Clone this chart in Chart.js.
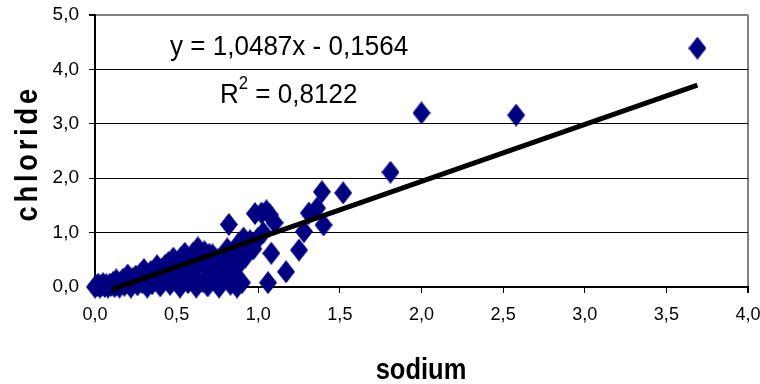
<!DOCTYPE html>
<html>
<head>
<meta charset="utf-8">
<script src="https://cdn.jsdelivr.net/npm/chart.js@4.4.1/dist/chart.umd.min.js"></script>
<style>
html,body{margin:0;padding:0;background:#fff;}
#wrap{position:relative;width:760px;height:384px;}
</style>
</head>
<body>
<div id="wrap"><canvas id="c" width="760" height="384"></canvas></div>
<script>
// sodium (x) and chloride (y) observations
const sodium = [
  0.00,0.01,0.02,0.03,0.04,0.05,0.06,0.07,0.08,0.09,
  0.10,0.11,0.12,0.13,0.14,0.15,0.16,0.17,0.18,0.19,
  0.20,0.21,0.22,0.23,0.24,0.25,0.26,0.27,0.28,0.29,
  0.30,0.31,0.32,0.33,0.34,0.35,0.36,0.37,0.38,0.39,
  0.40,0.41,0.42,0.43,0.44,0.45,0.46,0.47,0.48,0.49,
  0.50,0.51,0.52,0.53,0.54,0.55,0.56,0.57,0.58,0.59,
  0.60,0.61,0.62,0.63,0.64,0.65,0.66,0.67,0.68,0.69,
  0.70,0.71,0.72,0.73,0.74,0.75,0.76,0.77,0.78,0.79,
  0.80,0.81,0.82,0.83,0.84,0.85,0.86,0.87,0.88,0.89,
  0.90,0.91,0.92,0.93,0.95,0.96,0.97,0.98,1.00,1.02,
  1.03,1.05,1.07,1.06,1.08,1.10,1.17,1.25,1.28,1.31,
  1.36,1.39,1.40,1.52,1.81,2.00,2.58,3.69
];
const chloride = [
  0.00,0.02,0.05,0.00,0.03,0.06,0.01,0.04,0.00,0.05,
  0.03,0.08,0.01,0.13,0.05,0.00,0.09,0.14,0.03,0.10,
  0.22,0.06,0.00,0.15,0.10,0.20,0.04,0.18,0.25,0.08,
  0.32,0.14,0.00,0.22,0.28,0.06,0.30,0.16,0.39,0.25,
  0.02,0.33,0.12,0.40,0.20,0.45,0.05,0.30,0.53,0.38,
  0.15,0.45,0.00,0.55,0.25,0.62,0.40,0.08,0.50,0.30,
  0.62,0.18,0.00,0.72,0.45,0.55,0.10,0.65,0.35,0.02,
  0.60,0.22,0.59,0.42,0.10,0.50,0.00,0.32,0.55,0.15,
  0.40,0.70,1.15,0.05,0.50,0.25,0.65,0.00,0.80,0.45,
  0.08,0.90,0.55,0.75,0.85,0.80,0.70,1.35,0.90,1.36,
  1.00,1.40,1.33,0.08,0.62,1.18,0.28,0.68,1.02,1.36,
  1.45,1.75,1.14,1.73,2.11,3.20,3.16,4.39
];
// linear trendline endpoints (y = 1,0487x - 0,1564)
const trendX = [0.10, 3.69];
const trendY = [-0.05, 3.71];
const xTicks = [0, 0.5, 1, 1.5, 2, 2.5, 3, 3.5, 4];
const yTicks = [0, 1, 2, 3, 4, 5];
const eqLine = "y = 1,0487x - 0,1564";
const r2Value = " = 0,8122";
const xTitle = "sodium";
const yTitle = "chloride";

const NAVY = '#000080';
const FONT = "'Liberation Sans',Arial,sans-serif";

// diamond marker (taller than wide)
const diamond = document.createElement('canvas');
diamond.width = 18; diamond.height = 23;
(function(){
  const g = diamond.getContext('2d');
  g.fillStyle = NAVY;
  g.beginPath();
  g.moveTo(9,0); g.lineTo(18,11.5); g.lineTo(9,23); g.lineTo(0,11.5); g.closePath();
  g.fill();
})();

const pts = sodium.map((x,i)=>({x:x, y:chloride[i]}));
const trend = trendX.map((x,i)=>({x:x, y:trendY[i]}));
const fmt = v => Number(v).toFixed(1).replace('.', ',');

const textPlugin = {
  id: 'texts',
  afterDraw(chart){
    const ctx = chart.ctx;
    ctx.save();
    ctx.fillStyle = '#000';
    ctx.textBaseline = 'alphabetic';
    ctx.textAlign = 'left';
    // equation (slightly condensed)
    ctx.save();
    ctx.translate(170, 55);
    ctx.scale(0.93, 1);
    ctx.font = "28px " + FONT;
    ctx.fillText(eqLine, 0, 0);
    ctx.restore();
    ctx.save();
    ctx.translate(220, 103);
    ctx.scale(0.93, 1);
    ctx.font = "28px " + FONT;
    ctx.fillText('R', 0, 0);
    const rw = ctx.measureText('R').width;
    ctx.font = "18px " + FONT;
    ctx.fillText('2', rw, -14);
    const sw = ctx.measureText('2').width;
    ctx.font = "28px " + FONT;
    ctx.fillText(r2Value, rw + sw, 0);
    ctx.restore();
    // x axis title
    ctx.save();
    ctx.translate(421, 379);
    ctx.scale(0.85, 1);
    ctx.font = "bold 30px " + FONT;
    ctx.textAlign = 'center';
    ctx.fillText(xTitle, 0, 0);
    ctx.restore();
    // y axis title
    ctx.save();
    ctx.translate(37, 155);
    ctx.rotate(-Math.PI/2);
    ctx.scale(0.85, 1);
    ctx.font = "bold 32px " + FONT;
    ctx.letterSpacing = '4.5px';
    ctx.textAlign = 'center';
    ctx.fillText(yTitle, 2, 0);
    ctx.restore();
    ctx.restore();
  }
};

new Chart(document.getElementById('c'), {
  type: 'scatter',
  data: {
    datasets: [
      {
        label: 'trend',
        data: trend,
        type: 'line',
        showLine: true,
        borderColor: '#000',
        borderWidth: 5,
        pointRadius: 0,
        fill: false,
        order: 0,
        clip: false
      },
      {
        label: 'chloride',
        data: pts,
        pointStyle: diamond,
        pointRadius: 9,
        pointHoverRadius: 9,
        backgroundColor: NAVY,
        borderColor: NAVY,
        order: 1,
        clip: false
      }
    ]
  },
  plugins: [textPlugin],
  options: {
    responsive: false,
    animation: false,
    events: [],
    layout: { padding: { top: 15, right: 12, left: 0, bottom: 0 } },
    plugins: { legend: { display: false }, tooltip: { enabled: false } },
    scales: {
      x: {
        type: 'linear',
        min: 0, max: 4,
        afterFit(s){ s.height = 97; s.paddingLeft = 0; s.paddingRight = 0; },
        afterBuildTicks(s){ s.ticks = xTicks.map(v=>({value:v})); },
        ticks: {
          callback: v => fmt(v),
          font: { family: FONT, size: 18 },
          color: '#000',
          padding: 11,
          maxRotation: 0
        },
        grid: {
          color: c => (c.tick && c.tick.value === 4) ? '#808080' : 'rgba(0,0,0,0)',
          lineWidth: c => (c.tick && c.tick.value === 4) ? 2 : 1,
          tickColor: '#000',
          tickLength: 6
        },
        border: { display: true, color: '#000', width: 2 }
      },
      y: {
        type: 'linear',
        min: 0, max: 5,
        afterFit(s){ s.width = 95; s.paddingTop = 0; s.paddingBottom = 0; },
        afterBuildTicks(s){ s.ticks = yTicks.map(v=>({value:v})); },
        ticks: {
          callback: v => fmt(v),
          font: { family: FONT, size: 19 },
          color: '#000',
          padding: 10
        },
        grid: {
          color: c => (c.tick && c.tick.value === 5) ? '#808080' : '#000',
          lineWidth: c => (c.tick && c.tick.value === 5) ? 2 : 1,
          tickColor: '#000',
          tickLength: 6
        },
        border: { display: true, color: '#000', width: 2 }
      }
    }
  }
});
</script>
</body>
</html>
